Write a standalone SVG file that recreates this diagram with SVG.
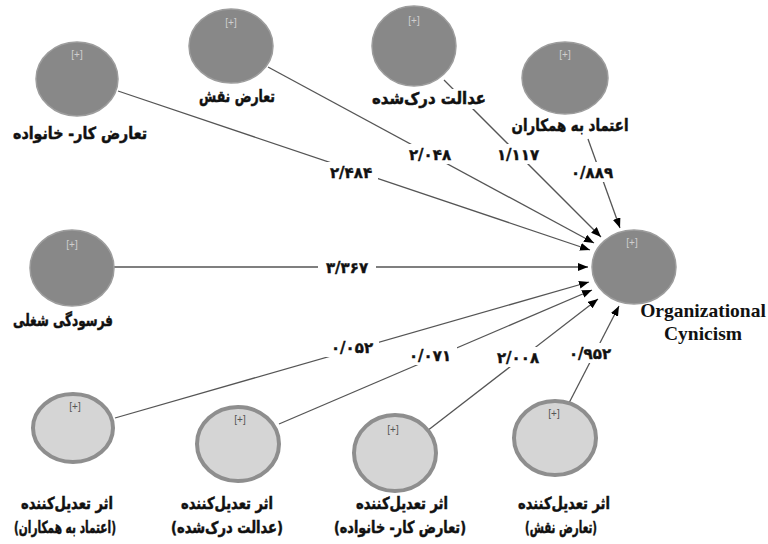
<svg xmlns="http://www.w3.org/2000/svg" width="768" height="544" viewBox="0 0 768 544">
<style>
.dark{fill:#888888;stroke:#9d9d9d;stroke-width:1.5}
.light{fill:#d5d5d5;stroke:#8e8e8e;stroke-width:4}
.pd{font-family:"Liberation Sans",Arial,sans-serif;font-size:10px;fill:#cfcfcf;text-anchor:middle}
.pl{font-family:"Liberation Sans",Arial,sans-serif;font-size:10px;fill:#555;text-anchor:middle}
.fa{font-family:"DejaVu Sans","Noto Sans",sans-serif;font-weight:bold;font-size:16.5px;fill:#111;text-anchor:middle;direction:rtl;stroke:#111;stroke-width:0.5}
.num{font-family:"DejaVu Sans","Noto Sans",sans-serif;font-weight:bold;font-size:15px;fill:#111;text-anchor:middle;stroke:#111;stroke-width:0.4}
.en{font-family:"Liberation Serif","Times New Roman",serif;font-weight:bold;font-size:19.5px;fill:#111;text-anchor:middle}
.ln{stroke:#555;stroke-width:1.3;fill:none;marker-end:url(#ah)}
.box{fill:#fff}
</style>
<defs>
<marker id="ah" markerWidth="10" markerHeight="8" refX="10" refY="4" orient="auto" markerUnits="userSpaceOnUse">
<path d="M0,0 L10,4 L0,8 z" fill="#000"/>
</marker>
</defs>
<rect width="768" height="544" fill="#fff"/>
<g id="connectors">
<line class="ln" x1="118" y1="91" x2="590" y2="250"/>
<line class="ln" x1="268" y1="67" x2="594" y2="243"/>
<line class="ln" x1="444" y1="80" x2="601" y2="237"/>
<line class="ln" x1="588" y1="139" x2="620" y2="228"/>
<line class="ln" x1="114" y1="267" x2="588" y2="267"/>
<line class="ln" x1="115" y1="418" x2="589" y2="282"/>
<line class="ln" x1="279" y1="424" x2="592" y2="290"/>
<line class="ln" x1="427" y1="431" x2="598" y2="299"/>
<line class="ln" x1="569" y1="403" x2="619" y2="306"/>
</g>
<g id="labels">
<rect class="box" x="324" y="162" width="54" height="20"/><text class="num" x="351" y="178">۲/۴۸۴</text>
<rect class="box" x="403" y="144" width="54" height="20"/><text class="num" x="430" y="160">۲/۰۴۸</text>
<rect class="box" x="491" y="144" width="54" height="20"/><text class="num" x="518" y="160">۱/۱۱۷</text>
<rect class="box" x="566" y="162" width="52" height="20"/><text class="num" x="592" y="178">۰/۸۸۹</text>
<rect class="box" x="318" y="257" width="58" height="20"/><text class="num" x="347" y="273">۳/۳۶۷</text>
<rect class="box" x="325" y="337" width="54" height="20"/><text class="num" x="352" y="353">۰/۰۵۲</text>
<rect class="box" x="403" y="345" width="54" height="20"/><text class="num" x="430" y="361">۰/۰۷۱</text>
<rect class="box" x="491" y="347" width="54" height="20"/><text class="num" x="518" y="363">۲/۰۰۸</text>
<rect class="box" x="564" y="343" width="52" height="20"/><text class="num" x="590" y="359">۰/۹۵۲</text>
</g>
<g id="n-wfc">
<ellipse class="dark" cx="77" cy="79" rx="41" ry="37"/>
<text class="pd" x="77" y="58">[+]</text>
<text class="fa" x="80" y="139" textLength="134" lengthAdjust="spacingAndGlyphs">تعارض کار- خانواده</text>
</g>
<g id="n-role">
<ellipse class="dark" cx="231" cy="46" rx="42" ry="37"/>
<text class="pd" x="231" y="26">[+]</text>
<text class="fa" x="237" y="102" textLength="76" lengthAdjust="spacingAndGlyphs">تعارض نقش</text>
</g>
<g id="n-justice">
<ellipse class="dark" cx="414" cy="46" rx="42" ry="40"/>
<text class="pd" x="414" y="24">[+]</text>
<rect class="box" x="372" y="89" width="115" height="20"/>
<text class="fa" x="429" y="104" textLength="114" lengthAdjust="spacingAndGlyphs">عدالت درک‌شده</text>
</g>
<g id="n-trust">
<ellipse class="dark" cx="565" cy="78" rx="43" ry="36"/>
<text class="pd" x="565" y="58">[+]</text>
<text class="fa" x="570" y="131" textLength="117" lengthAdjust="spacingAndGlyphs">اعتماد به همکاران</text>
</g>
<g id="n-burnout">
<ellipse class="dark" cx="72" cy="268" rx="42" ry="38"/>
<text class="pd" x="72" y="248">[+]</text>
<text class="fa" x="63" y="326" textLength="100" lengthAdjust="spacingAndGlyphs">فرسودگی شغلی</text>
</g>
<g id="n-cynicism">
<ellipse class="dark" cx="634" cy="267" rx="42" ry="37"/>
<text class="pd" x="632" y="246">[+]</text>
<text class="en" x="703" y="317">Organizational</text>
<text class="en" x="703" y="340">Cynicism</text>
</g>
<g id="n-mod-trust">
<ellipse class="light" cx="73" cy="428" rx="40" ry="34"/>
<text class="pl" x="75" y="410">[+]</text>
<text class="fa" x="67" y="509" textLength="92" lengthAdjust="spacingAndGlyphs">اثر تعدیل‌کننده</text>
<text class="fa" x="65" y="533" textLength="102" lengthAdjust="spacingAndGlyphs">(اعتماد به همکاران)</text>
</g>
<g id="n-mod-justice">
<ellipse class="light" cx="238" cy="444" rx="41" ry="37"/>
<text class="pl" x="240" y="423">[+]</text>
<text class="fa" x="227" y="509" textLength="92" lengthAdjust="spacingAndGlyphs">اثر تعدیل‌کننده</text>
<text class="fa" x="227" y="533" textLength="112" lengthAdjust="spacingAndGlyphs">(عدالت درک‌شده)</text>
</g>
<g id="n-mod-wfc">
<ellipse class="light" cx="395" cy="453" rx="41" ry="38"/>
<text class="pl" x="393" y="433">[+]</text>
<text class="fa" x="402" y="509" textLength="92" lengthAdjust="spacingAndGlyphs">اثر تعدیل‌کننده</text>
<text class="fa" x="400" y="533" textLength="132" lengthAdjust="spacingAndGlyphs">(تعارض کار- خانواده)</text>
</g>
<g id="n-mod-role">
<ellipse class="light" cx="555" cy="438" rx="41" ry="37"/>
<text class="pl" x="554" y="417">[+]</text>
<text class="fa" x="564" y="509" textLength="92" lengthAdjust="spacingAndGlyphs">اثر تعدیل‌کننده</text>
<text class="fa" x="561" y="533" textLength="72" lengthAdjust="spacingAndGlyphs">(تعارض نقش)</text>
</g>
</svg>
